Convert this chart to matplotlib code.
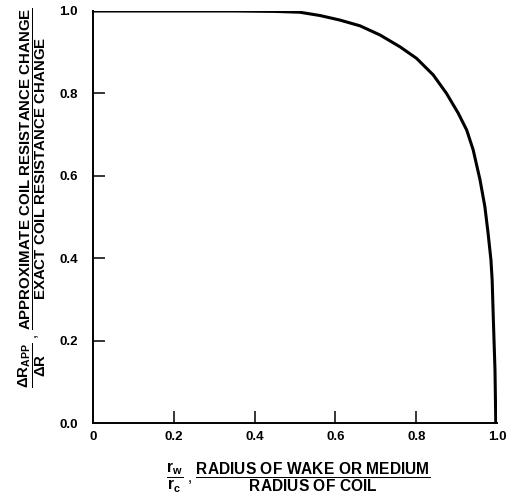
import matplotlib
matplotlib.use('Agg')
import matplotlib.pyplot as plt

# curve: approx / exact resistance change vs rw/rc
ratio_x = [0.0, 0.2, 0.35, 0.45, 0.512, 0.562, 0.611, 0.661, 0.710, 0.760, 0.801,
           0.842, 0.875, 0.904, 0.925, 0.941, 0.958, 0.970, 0.978, 0.985, 0.988,
           0.991, 0.995, 0.997]
ratio_y = [1.0, 1.0, 1.0, 0.999, 0.997, 0.989, 0.978, 0.964, 0.942, 0.913, 0.885,
           0.845, 0.800, 0.752, 0.711, 0.663, 0.590, 0.525, 0.460, 0.396, 0.347,
           0.250, 0.129, 0.0]

x_ticks = [0, 0.2, 0.4, 0.6, 0.8, 1.0]
x_ticklabels = ['0', '0.2', '0.4', '0.6', '0.8', '1.0']
y_ticks = [0.0, 0.2, 0.4, 0.6, 0.8, 1.0]
y_ticklabels = ['0.0', '0.2', '0.4', '0.6', '0.8', '1.0']

plt.rcParams['font.family'] = ['Liberation Sans', 'DejaVu Sans']
plt.rcParams['mathtext.fontset'] = 'custom'
plt.rcParams['mathtext.rm'] = 'Liberation Sans:bold'
plt.rcParams['mathtext.it'] = 'Liberation Sans:bold'
plt.rcParams['mathtext.bf'] = 'Liberation Sans:bold'

fig = plt.figure(figsize=(5.14, 4.95), dpi=100)
ax = fig.add_axes([93 / 514, 72 / 495, 404 / 514, 412 / 495])

ax.plot(ratio_x, ratio_y, color='black', linewidth=2.2, solid_joinstyle='round')

ax.set_xlim(0, 1.0)
ax.set_ylim(0, 1.0)
ax.spines['top'].set_visible(False)
ax.spines['right'].set_visible(False)
ax.spines['left'].set_linewidth(1.4)
ax.spines['bottom'].set_linewidth(1.4)

ax.set_xticks(x_ticks)
ax.set_xticklabels(x_ticklabels)
ax.set_yticks(y_ticks)
ax.set_yticklabels(y_ticklabels)
ax.tick_params(direction='in', length=8.5, width=1.1, labelsize=9.5)
ax.tick_params(axis='x', pad=6)
ax.tick_params(axis='y', pad=11)
for lab in ax.get_xticklabels() + ax.get_yticklabels():
    lab.set_fontweight('bold')
# end ticks sit on the spines in the original, hide them
for t in [ax.xaxis.get_major_ticks()[0], ax.xaxis.get_major_ticks()[-1],
          ax.yaxis.get_major_ticks()[0], ax.yaxis.get_major_ticks()[-1]]:
    t.tick1line.set_visible(False)

xlabel = (r'$\dfrac{\mathrm{r_{w}}}{\mathrm{r_{c}}}$' + ' , ' +
          r'$\dfrac{\mathrm{RADIUS\ OF\ WAKE\ OR\ MEDIUM}}{\mathrm{RADIUS\ OF\ COIL}}$')
fig.text(298 / 514, 1 - 478 / 495, xlabel, ha='center', va='center', fontsize=11.2)

ylabel = (r'$\dfrac{\mathrm{\Delta R_{APP}}}{\mathrm{\Delta R}}$' + ' , ' +
          r'$\dfrac{\mathrm{APPROXIMATE\ COIL\ RESISTANCE\ CHANGE}}'
          r'{\mathrm{EXACT\ COIL\ RESISTANCE\ CHANGE}}$')
fig.text(32 / 514, 1 - 198 / 495, ylabel, ha='center', va='center', rotation=90, fontsize=10.8)

fig.savefig('out.png', dpi=100)
